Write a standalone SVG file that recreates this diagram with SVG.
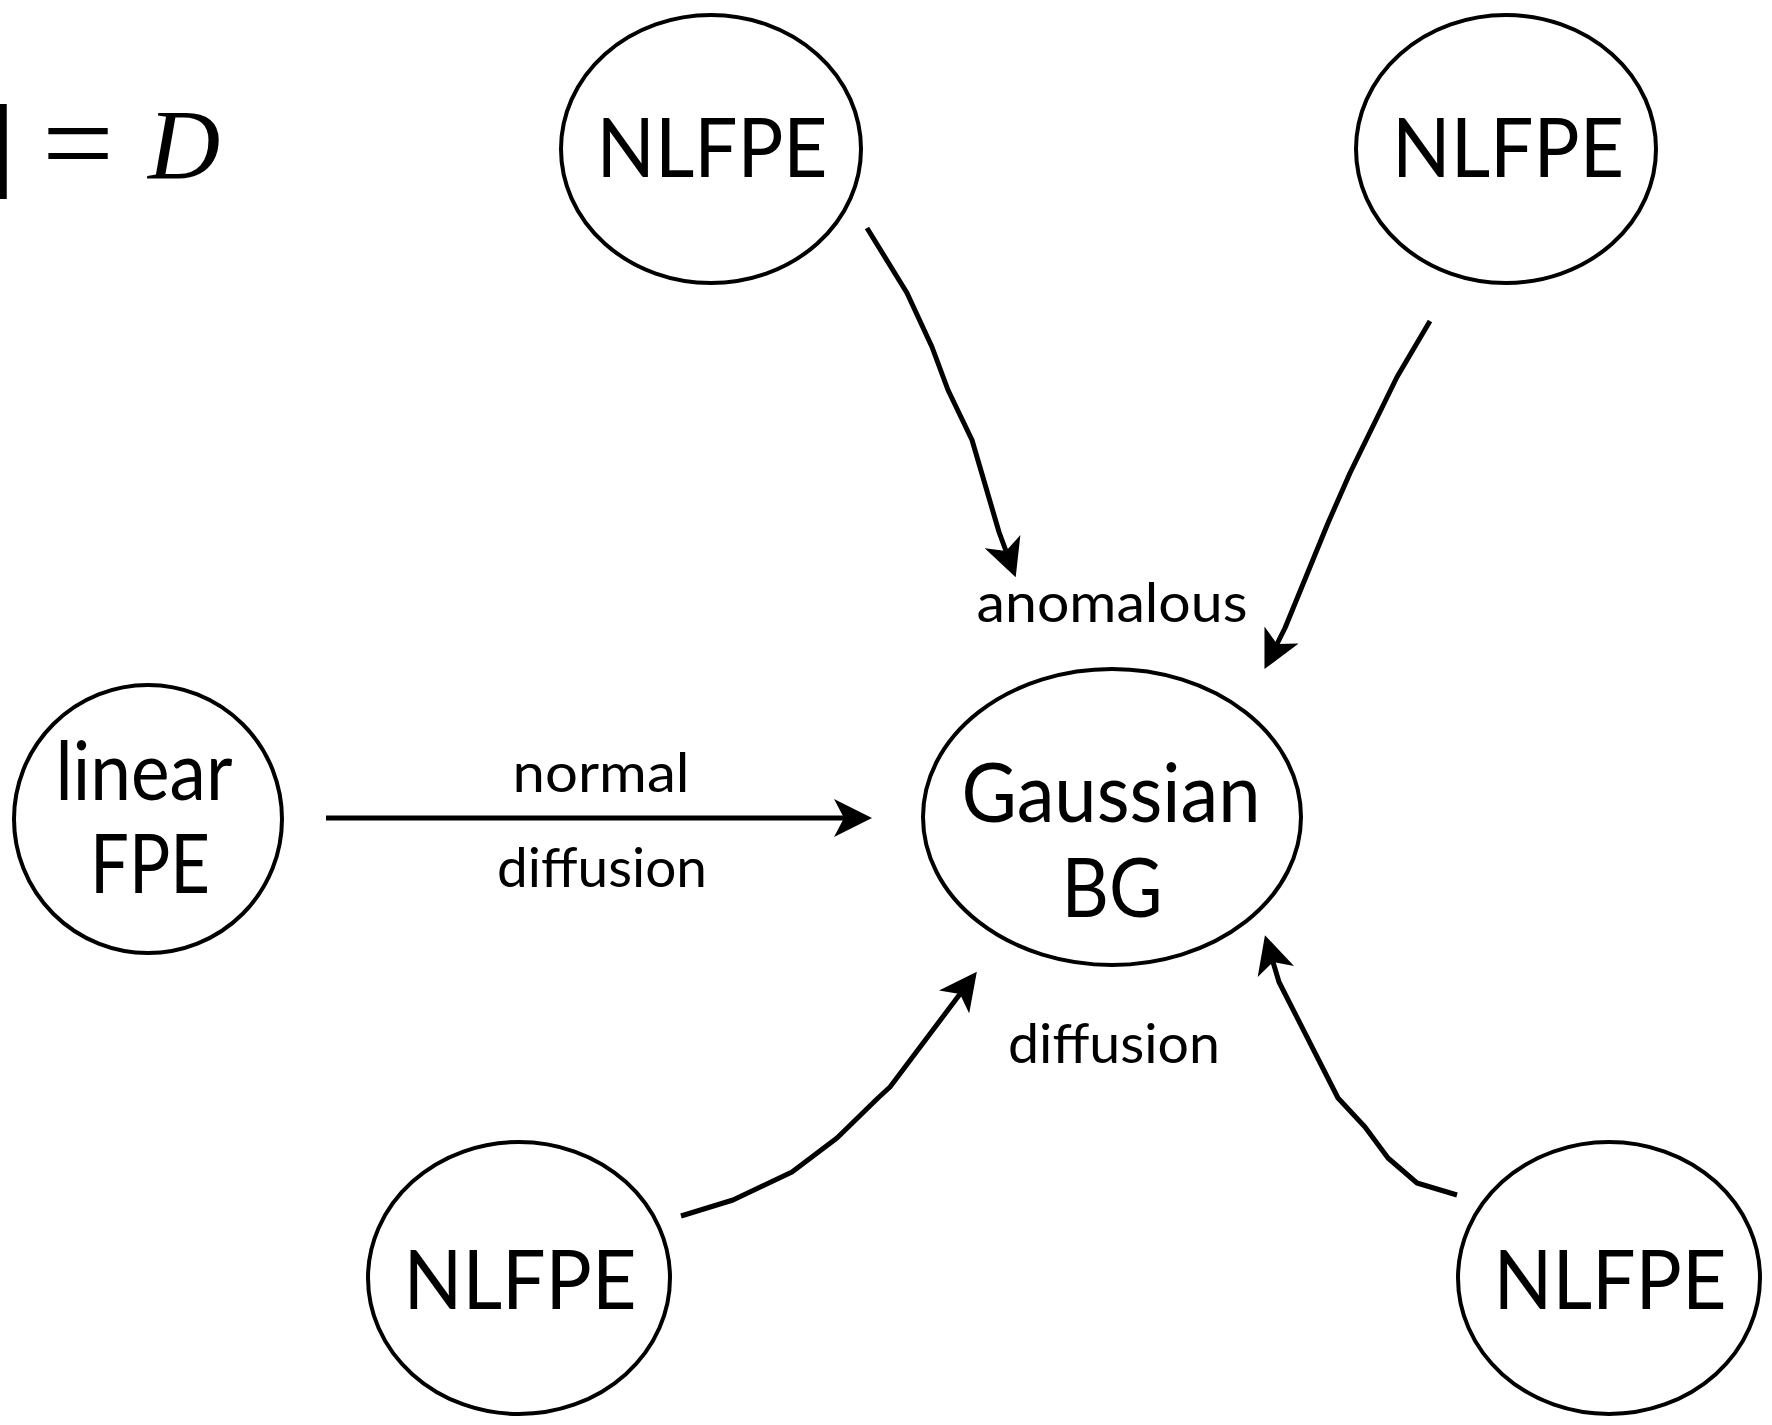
<svg xmlns="http://www.w3.org/2000/svg" width="1772" height="1425" viewBox="0 0 1772 1425">
<style>
.node{fill:#fff;stroke:#000;stroke-width:4}
.nt{font-family:Lato,"Open Sans","Liberation Sans",sans-serif;font-size:81px;fill:#000;text-anchor:middle}
.lbl{font-family:Lato,"Open Sans","Liberation Sans",sans-serif;font-size:54px;fill:#000;text-anchor:middle}
.edge{fill:none;stroke:#000;stroke-width:5;stroke-linejoin:round}
.math{font-family:"Liberation Serif","DejaVu Serif",serif;fill:#000}
</style>
<defs>
<marker id="ah" markerUnits="userSpaceOnUse" viewBox="0 0 38 38" refX="10" refY="19" markerWidth="38" markerHeight="38" orient="auto">
<path d="M0,0 L38,19 L0,38 L10,19 Z" fill="#000"/>
</marker>
</defs>
<rect width="1772" height="1425" fill="#fff"/>
<g id="formula">
<text class="math" x="-23" y="184" font-size="115">]</text>
<text class="math" x="42" y="184" font-size="122" textLength="72" lengthAdjust="spacingAndGlyphs">=</text>
<text class="math" x="148" y="178" font-size="100" font-style="italic">D</text>
</g>
<g id="nlfpe-top-left">
<ellipse class="node" cx="711" cy="149" rx="150" ry="134"/>
<text class="nt" x="712" y="177" textLength="231" lengthAdjust="spacingAndGlyphs">NLFPE</text>
</g>
<g id="nlfpe-top-right">
<ellipse class="node" cx="1506" cy="149" rx="150" ry="134"/>
<text class="nt" x="1508" y="177" textLength="232" lengthAdjust="spacingAndGlyphs">NLFPE</text>
</g>
<g id="linear-fpe">
<ellipse class="node" cx="148" cy="819" rx="134" ry="134"/>
<text class="nt" x="144" y="800" textLength="177" lengthAdjust="spacingAndGlyphs">linear</text>
<text class="nt" x="150" y="893" textLength="120" lengthAdjust="spacingAndGlyphs">FPE</text>
</g>
<g id="gaussian-bg">
<ellipse class="node" cx="1112" cy="817" rx="189" ry="148"/>
<text class="nt" x="1111" y="822" textLength="299" lengthAdjust="spacingAndGlyphs">Gaussian</text>
<text class="nt" x="1112" y="917" textLength="101" lengthAdjust="spacingAndGlyphs">BG</text>
</g>
<g id="nlfpe-bottom-left">
<ellipse class="node" cx="519" cy="1278" rx="151" ry="136"/>
<text class="nt" x="520" y="1309" textLength="233" lengthAdjust="spacingAndGlyphs">NLFPE</text>
</g>
<g id="nlfpe-bottom-right">
<ellipse class="node" cx="1609" cy="1278" rx="151" ry="136"/>
<text class="nt" x="1610" y="1309" textLength="233" lengthAdjust="spacingAndGlyphs">NLFPE</text>
</g>
<g id="connectors">
<polyline class="edge" marker-end="url(#ah)" points="867,228 907,293 932,347 948,390 972,440 999,532 1006,551"/>
<polyline class="edge" marker-end="url(#ah)" points="1430,321 1397,377 1350,473 1328,523 1285,628 1277,644"/>
<polyline class="edge" marker-end="url(#ah)" points="681,1216 733,1200 792,1172 837,1138 878,1098 890,1087 960,994"/>
<polyline class="edge" marker-end="url(#ah)" points="1457,1195 1417,1183 1388,1158 1365,1127 1338,1098 1279,982 1273,962"/>
<line class="edge" stroke-width="5.5" marker-end="url(#ah)" x1="326" y1="818" x2="844" y2="818"/>
<text class="lbl" x="1112" y="622" textLength="271" lengthAdjust="spacingAndGlyphs">anomalous</text>
<text class="lbl" x="601" y="792" textLength="177" lengthAdjust="spacingAndGlyphs">normal</text>
<text class="lbl" x="602" y="887" textLength="210" lengthAdjust="spacingAndGlyphs">diffusion</text>
<text class="lbl" x="1114" y="1063" textLength="212" lengthAdjust="spacingAndGlyphs">diffusion</text>
</g>
</svg>
